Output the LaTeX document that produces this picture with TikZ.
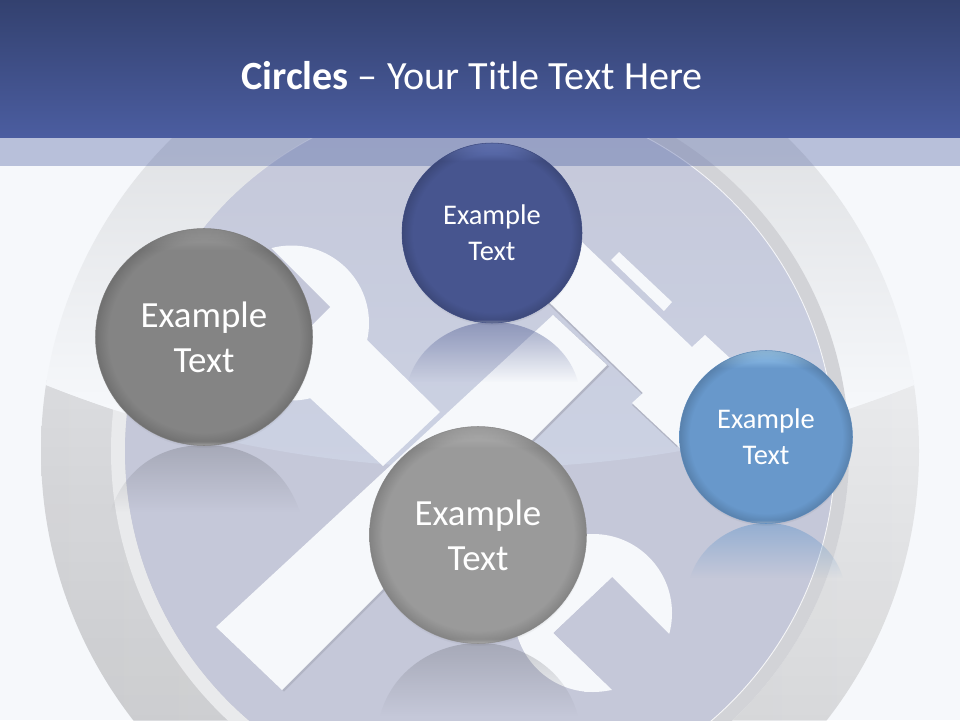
\documentclass[tikz,border=0pt]{standalone}
\usepackage{fontspec}
\setmainfont{Carlito}
\usetikzlibrary{fadings,shadows}
\definecolor{pagebg}{HTML}{F6F8FB}
\definecolor{headtop}{HTML}{33416F}
\definecolor{headbot}{HTML}{4B5DA0}
\definecolor{discup}{HTML}{C4C7D9}
\definecolor{discmid}{HTML}{CCD2E3}
\definecolor{disclow}{HTML}{C5C8D9}
\definecolor{ringleft}{HTML}{DADBDE}
\definecolor{ringright}{HTML}{EAEBED}
\definecolor{ringpale}{HTML}{E9EAEC}
\definecolor{ringdark}{HTML}{D2D3D7}
\definecolor{grayrimA}{HTML}{A0A0A0}
\definecolor{grayA}{HTML}{848484}
\definecolor{grayrimB}{HTML}{B4B4B4}
\definecolor{grayB}{HTML}{9A9A9A}
\definecolor{bluerim}{HTML}{6C80C6}
\definecolor{blueball}{HTML}{47558F}
\definecolor{skyrim}{HTML}{A0D0F6}
\definecolor{skyball}{HTML}{6898CB}
\newcommand{\ballshade}[3]{\pgfdeclareverticalshading{#1}{100bp}{color(0bp)=(#3!55!white); color(25bp)=(#3!55!white); color(26bp)=(#3); color(70bp)=(#3); color(75bp)=(#2); color(100bp)=(#2)}}
\ballshade{grayshadeA}{grayrimA}{grayA}
\ballshade{grayshadeB}{grayrimB}{grayB}
\ballshade{blueshade}{bluerim}{blueball}
\ballshade{skyshade}{skyrim}{skyball}
\pgfdeclareradialshading{rimshade}{\pgfpointorigin}{color(0bp)=(black); color(22bp)=(black); color(25bp)=(black!85!white); color(50bp)=(black!85!white)}
\pgfdeclarefading{rimfade}{\pgfuseshading{rimshade}}
\pgfdeclarehorizontalshading{ringshade}{100bp}{color(0bp)=(black); color(50bp)=(black); color(62bp)=(white); color(100bp)=(white)}
\pgfdeclarefading{ringfade}{\pgfuseshading{ringshade}}
\pgfdeclarehorizontalshading{lineshade}{100bp}{color(0bp)=(black); color(33bp)=(black); color(40bp)=(white); color(100bp)=(white)}
\pgfdeclarefading{linefade}{\pgfuseshading{lineshade}}
\tikzfading[name=reflectfade, top color=transparent!47, bottom color=transparent!100]
\tikzfading[name=grayfade, top color=transparent!72, bottom color=transparent!100]
\tikzfading[name=darkfade, top color=transparent!100, bottom color=transparent!93]
\newcommand{\bigtext}{\fontsize{21}{25.5}\selectfont}
\newcommand{\smalltext}{\fontsize{16.2}{20.5}\selectfont}
\tikzset{
  ball/.style={circle,inner sep=0pt,text=white,align=center,draw=#1,line width=0.3pt,
    postaction={fill=black,path fading=rimfade},
    circular drop shadow={shadow scale=1.005,shadow xshift=0pt,shadow yshift=-1.1pt,opacity=.35,fill=black}},
  tool/.style={fill=pagebg},
  toolshadow/.style={fill=black!9!discup},
  mirror/.style={path fading=reflectfade},
  graymirror/.style={fill=black!55!discup,path fading=grayfade}
}
\begin{document}
\begin{tikzpicture}[x=0.02cm,y=-0.02cm]
\useasboundingbox (0,0) rectangle (960,720);
\clip (0,0) rectangle (960,720);
\fill[pagebg] (0,0) rectangle (960,720);
\coordinate (O) at (480,451);
\coordinate (G) at (480,-703);
% outer ring
\begin{scope}
  \clip (O) circle[radius=439];
  \shade[left color=ringleft,right color=ringright] (41,380) rectangle (919,720);
  \fill[black,path fading=darkfade] (0,380) rectangle (960,720);
  \fill[even odd rule,ringpale] (O) circle[radius=369] (O) circle[radius=355];
  \clip (G) circle[radius=1171];
  \fill[pagebg] (0,0) rectangle (960,720);
  \shade[top color=black!13!pagebg,bottom color=pagebg] (0,12) rectangle (960,410);
\end{scope}
\fill[even odd rule,ringdark,path fading=ringfade] (O) circle[radius=369] (O) circle[radius=355];
% disc
\fill[disclow] (O) circle[radius=355];
\begin{scope}
  \clip (O) circle[radius=355];
  \clip (G) circle[radius=1171];
  \shade[top color=discup,bottom color=discmid] (0,96) rectangle (960,470);
\end{scope}
\draw[white,line width=0.5pt,opacity=.8,path fading=linefade] (O) circle[radius=355.5];
% tools
\fill[tool] (291.5,323) circle[radius=77.5];
\fill[tool] (593,613) circle[radius=79];
\fill[discup] (330,307) -- (270,247) -- (230,300) -- (270,367) -- cycle;
\fill[disclow] (612,577) -- (680,645) -- (640,720) -- (612,690) -- (553,633) -- cycle;
\fill[tool] (367,340) -- (440,412) -- (383,466) -- (310,398) -- (330,340) -- cycle;
\fill[tool] (500,473) -- (612,577) -- (553,633) -- (450,530) -- cycle;
\fill[tool] (553,633) -- (612,690) -- (585,692) -- (530,650) -- cycle;
\fill[toolshadow] (217.5,628.5) -- (554.5,316.5) -- (609,366.5) -- (284,691.5) -- cycle;
\fill[tool] (216,627) -- (553,315) -- (607,365) -- (282,690) -- cycle;
\fill[toolshadow] (540,202) -- (583,244) -- (692,349) -- (705,337) -- (729,359) -- (677,447) -- (632,405) -- (643,395) -- (510,267) -- cycle;
\fill[tool] (540,200) -- (583,243) -- (692,347) -- (705,335) -- (732,360) -- (680,448) -- (632,403) -- (643,393) -- (552,305) -- (510,265) -- cycle;
\fill[tool] (611,260) -- (619,252) -- (672,302) -- (664,311) -- cycle;
% reflections
\fill[graymirror] (110,512) .. controls (125,468) and (160,445) .. (205,445) .. controls (250,445) and (285,468) .. (300,512) -- cycle;
\fill[mirror,blueball!90!white] (408,382) .. controls (418,345) and (455,322) .. (493,322) .. controls (531,322) and (568,345) .. (578,382) -- cycle;
\fill[graymirror] (380,716) .. controls (392,670) and (435,643) .. (479,643) .. controls (523,643) and (566,670) .. (578,716) -- cycle;
\fill[mirror,skyball] (690,578) .. controls (700,545) and (733,523) .. (767,523) .. controls (801,523) and (833,545) .. (843,578) -- cycle;
% top strip and header
\fill[headbot,opacity=.36] (0,137) rectangle (960,166);
\shade[top color=headtop,bottom color=headbot] (0,0) rectangle (960,137);
\node[text=white,inner sep=0pt,font=\fontsize{22.8}{27}\selectfont] (title) at (472,76) {\textbf{Circles} -- Your Title Text Here};
% balls
\node[ball=black!45,minimum size=217*0.02cm,shading=grayshadeA,font=\bigtext] (L) at (204,337) {Example\\Text};
\node[ball=black!40,minimum size=217*0.02cm,shading=grayshadeB,font=\bigtext] (C) at (478,535) {Example\\Text};
\node[ball=blueball,minimum size=180*0.02cm,shading=blueshade,font=\smalltext] (T) at (492,233) {Example\\Text};
\node[ball=skyball,minimum size=173*0.02cm,shading=skyshade,font=\smalltext] (R) at (766,437) {Example\\Text};
\end{tikzpicture}
\end{document}
